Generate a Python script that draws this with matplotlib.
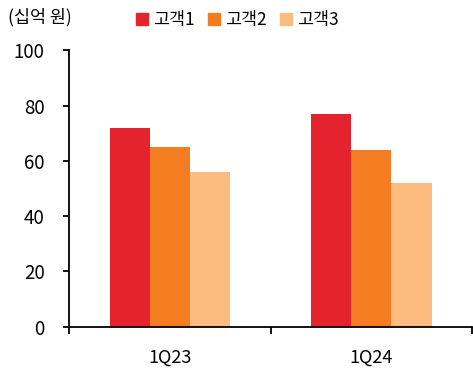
import matplotlib
matplotlib.use("Agg")
import matplotlib.pyplot as plt
import numpy as np

plt.rcParams['font.family'] = ['Noto Sans CJK KR', 'DejaVu Sans']

categories = ["1Q23", "1Q24"]
series_names = ["고객1", "고객2", "고객3"]
customer1 = [72, 77]
customer2 = [65, 64]
customer3 = [56, 52]
colors = ["#E5232F", "#F37D20", "#FDBB80"]
y_ticks = [0, 20, 40, 60, 80, 100]
unit_label = "(십억 원)"

fig = plt.figure(figsize=(4.73, 3.74), dpi=100)
ax = fig.add_axes([69.3 / 473, 1 - 326.7 / 374, (472 - 69.3) / 473, (326.7 - 50.3) / 374])

x = np.arange(len(categories))
width = 0.2
for i, (vals, name, c) in enumerate(zip([customer1, customer2, customer3], series_names, colors)):
    ax.bar(x + (i - 1) * width, vals, width, color=c, label=name, linewidth=0)

ax.set_xlim(-0.5, 1.5)
ax.set_ylim(0, 100)
ax.set_yticks(y_ticks)
ax.set_xticks(x)
ax.set_xticklabels(categories)
ax.set_xticks([-0.5, 0.5, 1.5], minor=True)
ax.tick_params(axis='x', which='major', length=0, pad=16, labelsize=13)
ax.tick_params(axis='x', which='minor', length=5, width=1.3, direction='out')
ax.tick_params(axis='y', length=4.3, width=1.3, pad=13.5, labelsize=13.5)

for s in ['top', 'right']:
    ax.spines[s].set_visible(False)
for s in ['left', 'bottom']:
    ax.spines[s].set_linewidth(1.3)

fig.text(8 / 473, 1 - 17 / 374, unit_label, fontsize=12.5, va='center', ha='left')

handles = [plt.Rectangle((0, 0), 1, 1, color=c) for c in colors]
fig.legend(handles, series_names, loc='center left', bbox_to_anchor=(136 / 473, 1 - 20 / 374),
           ncol=3, frameon=False, fontsize=12.5, handlelength=0.7, handleheight=0.7,
           handletextpad=0.3, columnspacing=0.75, borderaxespad=0, borderpad=0)

fig.savefig("out.png", dpi=100)
